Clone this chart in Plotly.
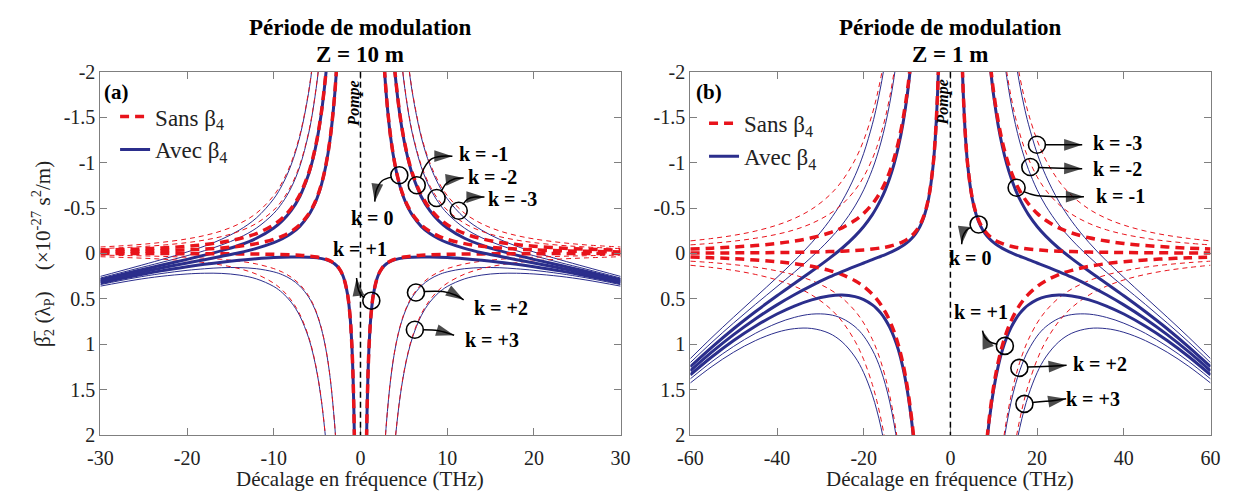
import plotly.graph_objects as go

# ---------------- data (positive-frequency half; curves are symmetric) ----------------
# Panel (a) : Z = 10 m   (x in THz, y in 1e-27 s^2/m)
A_X_K0 = [2.654, 3, 3.5, 4, 4.5, 5, 5.5, 6, 7, 8, 9, 10, 12, 14, 16, 18, 20, 23, 26, 30]
A_SANS_K0 = [-2.2, -1.722, -1.265, -0.969, -0.765, -0.62, -0.512, -0.431, -0.316, -0.242, -0.191, -0.155, -0.108, -0.079, -0.061, -0.048, -0.039, -0.029, -0.023, -0.017]
A_AVEC_K0 = [-2.197, -1.719, -1.261, -0.963, -0.758, -0.611, -0.501, -0.418, -0.298, -0.219, -0.162, -0.119, -0.056, -0.008, 0.031, 0.069, 0.105, 0.161, 0.220, 0.307]

A_X_KM1 = [3.79, 4, 4.5, 5, 5.5, 6, 7, 8, 9, 10, 12, 14, 16, 18, 20, 23, 26, 30]
A_SANS_KM1 = [-2.2, -1.975, -1.560, -1.264, -1.045, -0.878, -0.645, -0.494, -0.390, -0.316, -0.219, -0.161, -0.123, -0.098, -0.079, -0.060, -0.047, -0.035]
A_AVEC_KM1 = [-2.195, -1.969, -1.553, -1.255, -1.034, -0.865, -0.627, -0.471, -0.361, -0.280, -0.167, -0.090, -0.031, 0.019, 0.065, 0.130, 0.196, 0.289]

A_X_KM2 = [4.656, 5, 5.5, 6, 7, 8, 9, 10, 12, 14, 16, 18, 20, 23, 26, 30]
A_SANS_KM2 = [-2.2, -1.908, -1.577, -1.325, -0.974, -0.745, -0.589, -0.477, -0.331, -0.243, -0.186, -0.147, -0.119, -0.090, -0.071, -0.053]
A_AVEC_KM2 = [-2.192, -1.899, -1.566, -1.312, -0.956, -0.722, -0.560, -0.441, -0.279, -0.172, -0.094, -0.030, 0.025, 0.100, 0.172, 0.271]

A_X_KM3 = [5.385, 6, 7, 8, 9, 10, 12, 14, 16, 18, 20, 23, 26, 30]
A_SANS_KM3 = [-2.2, -1.772, -1.302, -0.997, -0.788, -0.638, -0.443, -0.326, -0.249, -0.197, -0.160, -0.121, -0.094, -0.071]
A_AVEC_KM3 = [-2.19, -1.759, -1.284, -0.974, -0.759, -0.602, -0.391, -0.255, -0.157, -0.080, -0.016, 0.069, 0.149, 0.253]

A_X_K1 = [0.674, 0.75, 0.85, 1, 1.2, 1.5, 2, 2.5, 3, 3.5, 4, 5, 6, 7, 8, 10, 12, 14, 16, 18, 20, 23, 26, 30]
A_SANS_K1 = [2.2, 1.778, 1.384, 1.0, 0.694, 0.444, 0.25, 0.16, 0.111, 0.082, 0.063, 0.04, 0.028, 0.020, 0.016, 0.010, 0.007, 0.005, 0.004, 0.003, 0.0025, 0.0019, 0.0015, 0.0011]
A_AVEC_K1 = [2.2, 1.778, 1.384, 1.0, 0.695, 0.445, 0.251, 0.162, 0.114, 0.086, 0.068, 0.049, 0.041, 0.038, 0.039, 0.046, 0.059, 0.076, 0.096, 0.120, 0.147, 0.192, 0.245, 0.325]

A_X_K2 = [2.755, 3, 3.5, 4, 4.5, 5, 5.5, 6, 7, 8, 9, 10, 12, 14, 16, 18, 20, 23, 26, 30]
A_SANS_K2 = [2.2, 1.855, 1.363, 1.044, 0.825, 0.668, 0.552, 0.464, 0.341, 0.261, 0.206, 0.167, 0.116, 0.085, 0.065, 0.052, 0.042, 0.032, 0.025, 0.019]
A_AVEC_K2 = [2.203, 1.858, 1.367, 1.050, 0.832, 0.677, 0.563, 0.477, 0.359, 0.284, 0.235, 0.203, 0.168, 0.156, 0.157, 0.169, 0.186, 0.222, 0.268, 0.343]

A_X_K3 = [3.861, 4, 4.5, 5, 5.5, 6, 7, 8, 9, 10, 12, 14, 16, 18, 20, 23, 26, 30]
A_SANS_K3 = [2.2, 2.05, 1.620, 1.312, 1.084, 0.911, 0.669, 0.513, 0.405, 0.328, 0.228, 0.167, 0.128, 0.101, 0.082, 0.062, 0.049, 0.036]
A_AVEC_K3 = [2.205, 2.056, 1.627, 1.321, 1.095, 0.924, 0.687, 0.536, 0.434, 0.364, 0.280, 0.238, 0.220, 0.218, 0.226, 0.252, 0.292, 0.360]

# Panel (b) : Z = 1 m
B_X_K0 = [2.654, 3, 3.5, 4, 5, 6, 7, 8, 9, 10, 11, 12, 13, 14, 15, 16, 18, 20, 22, 25, 28, 32, 36, 40, 45, 50, 55, 60]
B_SANS_K0 = [-2.2, -1.722, -1.265, -0.969, -0.62, -0.431, -0.316, -0.242, -0.191, -0.155, -0.128, -0.108, -0.092, -0.079, -0.069, -0.061, -0.048, -0.039, -0.032, -0.025, -0.020, -0.015, -0.012, -0.0097, -0.0077, -0.0062, -0.0051, -0.0043]
B_AVEC_K0 = [-2.197, -1.719, -1.261, -0.963, -0.611, -0.418, -0.298, -0.219, -0.162, -0.119, -0.084, -0.056, -0.031, -0.008, 0.012, 0.031, 0.069, 0.105, 0.142, 0.200, 0.262, 0.354, 0.455, 0.566, 0.721, 0.894, 1.084, 1.292]

B_X_KM1 = [8.957, 9.5, 10, 11, 12, 13, 14, 15, 16, 17, 18, 20, 22, 25, 28, 32, 36, 40, 45, 50, 55, 60]
B_SANS_KM1 = [-2.2, -1.956, -1.765, -1.459, -1.226, -1.044, -0.901, -0.784, -0.689, -0.611, -0.545, -0.441, -0.365, -0.282, -0.225, -0.172, -0.136, -0.110, -0.087, -0.071, -0.058, -0.049]
B_AVEC_KM1 = [-2.171, -1.923, -1.729, -1.415, -1.174, -0.983, -0.830, -0.703, -0.597, -0.507, -0.428, -0.297, -0.191, -0.057, 0.057, 0.197, 0.331, 0.466, 0.642, 0.829, 1.031, 1.247]

B_X_KM2 = [12.386, 13, 14, 15, 16, 17, 18, 20, 22, 25, 28, 32, 36, 40, 45, 50, 55, 60]
B_SANS_KM2 = [-2.2, -1.997, -1.722, -1.5, -1.318, -1.168, -1.042, -0.844, -0.697, -0.54, -0.431, -0.330, -0.260, -0.211, -0.167, -0.135, -0.112, -0.094]
B_AVEC_KM2 = [-2.145, -1.936, -1.651, -1.419, -1.226, -1.064, -0.925, -0.700, -0.523, -0.315, -0.149, 0.039, 0.207, 0.365, 0.562, 0.765, 0.977, 1.202]

B_X_KM3 = [15.05, 16, 17, 18, 20, 22, 25, 28, 32, 36, 40, 45, 50, 55, 60]
B_SANS_KM3 = [-2.2, -1.947, -1.725, -1.539, -1.246, -1.030, -0.798, -0.636, -0.487, -0.385, -0.312, -0.246, -0.199, -0.165, -0.138]
B_AVEC_KM3 = [-2.118, -1.855, -1.621, -1.422, -1.102, -0.856, -0.573, -0.354, -0.118, 0.082, 0.264, 0.483, 0.701, 0.924, 1.158]

B_X_K1 = [8.13, 8.5, 9, 10, 11, 12, 13, 14, 15, 16, 17, 18, 20, 22, 25, 28, 32, 36, 40, 45, 50, 55, 60]
B_SANS_K1 = [2.2, 2.014, 1.796, 1.455, 1.202, 1.010, 0.861, 0.742, 0.647, 0.568, 0.503, 0.449, 0.364, 0.301, 0.233, 0.186, 0.142, 0.112, 0.091, 0.072, 0.058, 0.048, 0.040]
B_AVEC_K1 = [2.224, 2.040, 1.825, 1.491, 1.246, 1.062, 0.922, 0.813, 0.728, 0.660, 0.607, 0.566, 0.508, 0.475, 0.458, 0.468, 0.511, 0.579, 0.667, 0.801, 0.958, 1.137, 1.336]

B_X_K2 = [11.8, 12.3, 13, 14, 15, 16, 17, 18, 20, 22, 25, 28, 32, 36, 40, 45, 50, 55, 60]
B_SANS_K2 = [2.2, 2.026, 1.814, 1.564, 1.362, 1.197, 1.060, 0.946, 0.766, 0.633, 0.490, 0.391, 0.299, 0.237, 0.192, 0.151, 0.123, 0.101, 0.085]
B_AVEC_K2 = [2.25, 2.080, 1.875, 1.635, 1.443, 1.289, 1.164, 1.063, 0.910, 0.807, 0.715, 0.673, 0.668, 0.704, 0.768, 0.880, 1.023, 1.190, 1.381]

B_X_K3 = [14.58, 15.2, 16, 17, 18, 20, 22, 25, 28, 32, 36, 40, 45, 50, 55, 60]
B_SANS_K3 = [2.2, 2.023, 1.826, 1.618, 1.443, 1.169, 0.966, 0.748, 0.596, 0.457, 0.361, 0.292, 0.231, 0.187, 0.155, 0.130]
B_AVEC_K3 = [2.277, 2.107, 1.918, 1.722, 1.560, 1.313, 1.140, 0.973, 0.878, 0.826, 0.828, 0.868, 0.960, 1.087, 1.244, 1.426]

# ticks
Y_TICKS = [-2, -1.5, -1, -0.5, 0, 0.5, 1, 1.5, 2]
Y_TICK_TEXT = ["-2", "-1.5", "-1", "-0.5", "0", "0.5", "1", "1.5", "2"]
XA_TICKS = [-30, -20, -10, 0, 10, 20, 30]
XA_TICK_TEXT = ["-30", "-20", "-10", "0", "10", "20", "30"]
XB_TICKS = [-60, -40, -20, 0, 20, 40, 60]
XB_TICK_TEXT = ["-60", "-40", "-20", "0", "20", "40", "60"]

# k labels: (text, circle, arrow path, arrow head, label centre)
A_LABELS = [
    ("k = 0", (4.48, -0.86), [(3.6, -0.84), (2.5, -0.80), (1.85, -0.70)], (1.65, -0.57), (1.34, -0.39)),
    ("k = -1", (6.49, -0.75), [(6.9, -0.83), (7.4, -0.95), (8.2, -1.04), (9.4, -1.07)], (10.6, -1.07), (14.24, -1.09)),
    ("k = -2", (8.78, -0.61), [(9.3, -0.68), (9.9, -0.77), (10.8, -0.82)], (11.9, -0.83), (15.23, -0.84)),
    ("k = -3", (11.33, -0.47), [(11.8, -0.54), (12.4, -0.60), (13.2, -0.62)], (14.3, -0.62), (17.51, -0.60)),
    ("k = +1", (1.25, 0.52), [(0.45, 0.49), (-0.05, 0.44), (-0.35, 0.36)], (-0.45, 0.27), (0.0, -0.05)),
    ("k = +2", (6.40, 0.43), [(7.3, 0.42), (9.5, 0.42), (11.0, 0.46)], (11.9, 0.51), (16.26, 0.60)),
    ("k = +3", (6.27, 0.84), [(7.2, 0.84), (9.0, 0.85)], (10.8, 0.90), (15.14, 0.95)),
]
B_LABELS = [
    ("k = -3", (19.96, -1.196), [(21.8, -1.196), (27.5, -1.196)], (30.4, -1.196), (38.5, -1.21)),
    ("k = -2", (18.43, -0.951), [(20.2, -0.945), (27.5, -0.935)], (30.4, -0.933), (38.5, -0.93)),
    ("k = -1", (15.27, -0.723), [(16.9, -0.68), (19.5, -0.64), (24.0, -0.625), (28.0, -0.625)], (30.8, -0.625), (39.3, -0.63)),
    ("k = 0", (6.50, -0.319), [(4.8, -0.29), (3.6, -0.25), (2.8, -0.18)], (2.6, -0.10), (4.7, 0.05)),
    ("k = +1", (12.56, 1.018), [(10.8, 1.0), (9.0, 0.97), (7.9, 0.92)], (7.4, 0.85), (7.1, 0.65)),
    ("k = +2", (15.90, 1.26), [(17.7, 1.25), (24.0, 1.24)], (26.8, 1.23), (34.5, 1.22)),
    ("k = +3", (17.07, 1.656), [(18.9, 1.64), (24.0, 1.62)], (26.7, 1.60), (32.9, 1.60)),
]

# ---------------- styling ----------------
BLUE = "#2B2E8C"
RED = "#E8131B"
FONT = "Liberation Serif, Times New Roman, DejaVu Serif, serif"
W, H = 1249, 504
A_DOM = [89 / W, 619 / W]
B_DOM = [690 / W, 1220 / W]
Y_DOM = [(H - 443.5) / H, (H - 63.5) / H]

fig = go.Figure()


def mirror(xs, ys):
    mx = [-v for v in reversed(xs)] + [None] + list(xs)
    my = list(reversed(ys)) + [None] + list(ys)
    return mx, my


def add_curve(xs, ys, color, width, dash, xa, ya, name=None, legend=None, rank=None):
    mx, my = mirror(xs, ys)
    fig.add_trace(go.Scatter(
        x=mx, y=my, mode="lines", xaxis=xa, yaxis=ya,
        line=dict(color=color, width=width, dash=dash, shape="spline"),
        connectgaps=False, hoverinfo="skip",
        name=name if name else "", showlegend=bool(name),
        legend=legend if legend else "legend",
        legendrank=rank if rank else 1000,
    ))


panels = [
    ("x", "y", "legend", [
        (A_X_KM3, A_SANS_KM3, A_AVEC_KM3, False),
        (A_X_KM2, A_SANS_KM2, A_AVEC_KM2, False),
        (A_X_K2, A_SANS_K2, A_AVEC_K2, False),
        (A_X_K3, A_SANS_K3, A_AVEC_K3, False),
        (A_X_KM1, A_SANS_KM1, A_AVEC_KM1, True),
        (A_X_K1, A_SANS_K1, A_AVEC_K1, True),
        (A_X_K0, A_SANS_K0, A_AVEC_K0, True),
    ]),
    ("x2", "y2", "legend2", [
        (B_X_KM3, B_SANS_KM3, B_AVEC_KM3, False),
        (B_X_KM2, B_SANS_KM2, B_AVEC_KM2, False),
        (B_X_K2, B_SANS_K2, B_AVEC_K2, False),
        (B_X_K3, B_SANS_K3, B_AVEC_K3, False),
        (B_X_KM1, B_SANS_KM1, B_AVEC_KM1, True),
        (B_X_K1, B_SANS_K1, B_AVEC_K1, True),
        (B_X_K0, B_SANS_K0, B_AVEC_K0, True),
    ]),
]

for xa, ya, leg, curves in panels:
    for i, (xs, sans, avec, thick) in enumerate(curves):
        last = i == len(curves) - 1
        if thick:
            add_curve(xs, avec, BLUE, 3, "solid", xa, ya,
                      name="Avec β<sub>4</sub>" if last else None, legend=leg, rank=2)
            add_curve(xs, sans, RED, 3.5, "9px,6px", xa, ya,
                      name="Sans β<sub>4</sub>" if last else None, legend=leg, rank=1)
        else:
            add_curve(xs, avec, BLUE, 1, "solid", xa, ya)
            add_curve(xs, sans, RED, 1, "5px,4px", xa, ya)

annotations = []
shapes = []

# pump line
for xa, ya in [("x", "y"), ("x2", "y2")]:
    shapes.append(dict(type="line", xref=xa, yref=ya, x0=0, x1=0, y0=-2, y1=2,
                       line=dict(color="black", width=1.5, dash="6px,4px")))


def add_labels(labels, xa, ya):
    cx = [c[1][0] for c in labels]
    cy = [c[1][1] for c in labels]
    fig.add_trace(go.Scatter(x=cx, y=cy, mode="markers", xaxis=xa, yaxis=ya,
                             marker=dict(symbol="circle-open", size=17, color="black",
                                         line=dict(width=1.6, color="black")),
                             showlegend=False, hoverinfo="skip"))
    for text, circ, path, head, lab in labels:
        px = [p[0] for p in path] + [head[0]]
        py = [p[1] for p in path] + [head[1]]
        sizes = [0] * len(path) + [19]
        fig.add_trace(go.Scatter(x=px, y=py, mode="lines+markers", xaxis=xa, yaxis=ya,
                                 line=dict(color="black", width=1.5, shape="spline"),
                                 marker=dict(symbol="arrow", size=sizes, color="black",
                                             angleref="previous", line=dict(width=0)),
                                 showlegend=False, hoverinfo="skip"))
        annotations.append(dict(x=lab[0], y=lab[1], xref=xa, yref=ya, text="<b>" + text + "</b>",
                                showarrow=False, xanchor="center", yanchor="middle",
                                font=dict(family=FONT, size=20, color="black")))


add_labels(A_LABELS, "x", "y")
add_labels(B_LABELS, "x2", "y2")

# panel letters and pump text
annotations += [
    dict(x=-28.1, y=-1.78, xref="x", yref="y", text="<b>(a)</b>", showarrow=False,
         xanchor="center", yanchor="middle", font=dict(family=FONT, size=21, color="black")),
    dict(x=-55.6, y=-1.78, xref="x2", yref="y2", text="<b>(b)</b>", showarrow=False,
         xanchor="center", yanchor="middle", font=dict(family=FONT, size=21, color="black")),
    dict(x=-0.85, y=-1.65, xref="x", yref="y", text="<b><i>Pompe</i></b>", showarrow=False,
         xanchor="center", yanchor="middle", textangle=-90, font=dict(family=FONT, size=16, color="black")),
    dict(x=-1.75, y=-1.66, xref="x2", yref="y2", text="<b><i>Pompe</i></b>", showarrow=False,
         xanchor="center", yanchor="middle", textangle=-90, font=dict(family=FONT, size=16, color="black")),
]

# titles and x-axis titles
for dom, z in [(A_DOM, "Z = 10 m"), (B_DOM, "Z = 1 m")]:
    cxp = (dom[0] + dom[1]) / 2
    annotations.append(dict(x=cxp, y=1 - 17 / H, xref="paper", yref="paper",
                            xanchor="center", yanchor="middle",
                            text="<b>Période de modulation</b>", showarrow=False,
                            font=dict(family=FONT, size=23, color="black")))
    annotations.append(dict(x=cxp, y=1 - 45 / H, xref="paper", yref="paper",
                            xanchor="center", yanchor="middle",
                            text="<b>" + z + "</b>", showarrow=False,
                            font=dict(family=FONT, size=23, color="black")))
    annotations.append(dict(x=cxp, y=1 - 489 / H, xref="paper", yref="paper",
                            xanchor="center", yanchor="middle",
                            text="Décalage en fréquence (THz)", showarrow=False,
                            font=dict(family=FONT, size=21, color="#222")))

annotations.append(dict(x=30 / W, y=(Y_DOM[0] + Y_DOM[1]) / 2, xref="paper", yref="paper",
                        xanchor="center", yanchor="middle",
                        text="β\u0305<sub>2</sub> (λ<sub>P</sub>)    (×10<sup>-27</sup> s<sup>2</sup>/m)",
                        textangle=-90, showarrow=False,
                        font=dict(family=FONT, size=21, color="#222")))

axis_common = dict(showline=True, linecolor="#7f7f7f", linewidth=1, mirror="ticks",
                   ticks="inside", ticklen=7, tickcolor="#7f7f7f", showgrid=False,
                   zeroline=False, tickfont=dict(family=FONT, size=20, color="#222"))

fig.update_layout(
    width=W, height=H,
    margin=dict(l=0, r=0, t=0, b=0),
    paper_bgcolor="white", plot_bgcolor="white",
    font=dict(family=FONT),
    xaxis=dict(domain=A_DOM, range=[-30, 30], tickvals=XA_TICKS, ticktext=XA_TICK_TEXT,
               anchor="y", ticklabelstandoff=5, **axis_common),
    yaxis=dict(domain=Y_DOM, range=[2, -2], tickvals=Y_TICKS, ticktext=Y_TICK_TEXT,
               anchor="x", **axis_common),
    xaxis2=dict(domain=B_DOM, range=[-60, 60], tickvals=XB_TICKS, ticktext=XB_TICK_TEXT,
                anchor="y2", ticklabelstandoff=5, **axis_common),
    yaxis2=dict(domain=Y_DOM, range=[2, -2], tickvals=Y_TICKS, ticktext=Y_TICK_TEXT,
                anchor="x2", **axis_common),
    legend=dict(x=104 / W, y=1 - 88 / H, xanchor="left", yanchor="top",
                bgcolor="rgba(0,0,0,0)", font=dict(family=FONT, size=23, color="#222"),
                itemwidth=30, tracegroupgap=0),
    legend2=dict(x=704 / W, y=1 - 95 / H, xanchor="left", yanchor="top",
                 bgcolor="rgba(0,0,0,0)", font=dict(family=FONT, size=23, color="#222"),
                 itemwidth=30, tracegroupgap=0),
    annotations=annotations,
    shapes=shapes,
    showlegend=True,
)

fig.write_html("out.html", config={"displayModeBar": False},
               post_script="document.body.style.margin='0px';")
